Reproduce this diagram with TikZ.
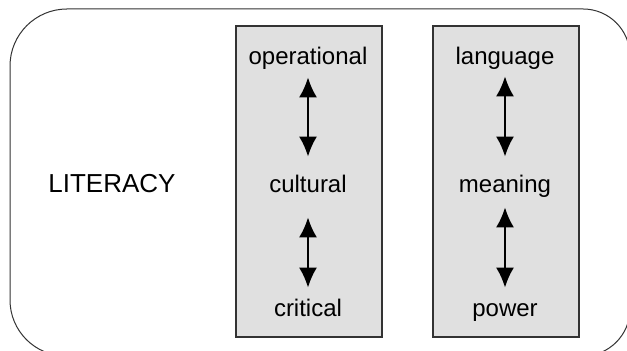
\documentclass[tikz,border=0pt]{standalone}
\usepackage{fontspec}
\setmainfont{Liberation Sans}
\usepackage{tikz}
\usetikzlibrary{arrows}
\usetikzlibrary{arrows.meta}

\begin{document}
\begin{tikzpicture}[x=0.5pt,y=0.5pt]
\tikzset{>={Latex[width=9pt,length=10pt]}}
\tikzstyle{panel} =[draw=black!80,line width=0.6pt,fill=black!12,inner sep=0pt,minimum width=73pt,minimum height=155.5pt]
\tikzstyle{term} =[anchor=base,inner sep=0pt,text height=9pt,text depth=3pt,font=\fontsize{12}{14}\selectfont]

\useasboundingbox (0,0) rectangle (627,351);

% outer frame, running past the right and bottom edges
\draw [black!80,line width=0.5pt] (66,-5) -- (583,-5) arc[start angle=-90,end angle=0,radius=47]
  -- (630,295) arc[start angle=0,end angle=90,radius=47]
  -- (67,342) arc[start angle=90,end angle=180,radius=57]
  -- (10,51) arc[start angle=180,end angle=270,radius=56] -- cycle;

\node[panel](p1) at (309,169.5){};
\node[panel](p2) at (506,169.5){};

\node[anchor=base,inner sep=0pt,font=\fontsize{13}{15}\selectfont](lit) at (112,158){LITERACY};

\node[term](op) at (308,286){operational};
\node[term](cu) at (308,158){cultural};
\node[term](cr) at (308,34){critical};

\node[term](la) at (505,286){language};
\node[term](me) at (505,158){meaning};
\node[term](po) at (505,34){power};

\draw [<->,line width=1pt,shorten <=3pt,shorten >=9pt] (op) -- (cu);
\draw [<->,line width=1pt,shorten <=9pt,shorten >=5.5pt] (cu) -- (cr);
\draw [<->,line width=1pt,shorten <=2.5pt,shorten >=9pt] (la) -- (me);
\draw [<->,line width=1pt,shorten <=4pt,shorten >=5.5pt] (me) -- (po);
\end{tikzpicture}
\end{document}
